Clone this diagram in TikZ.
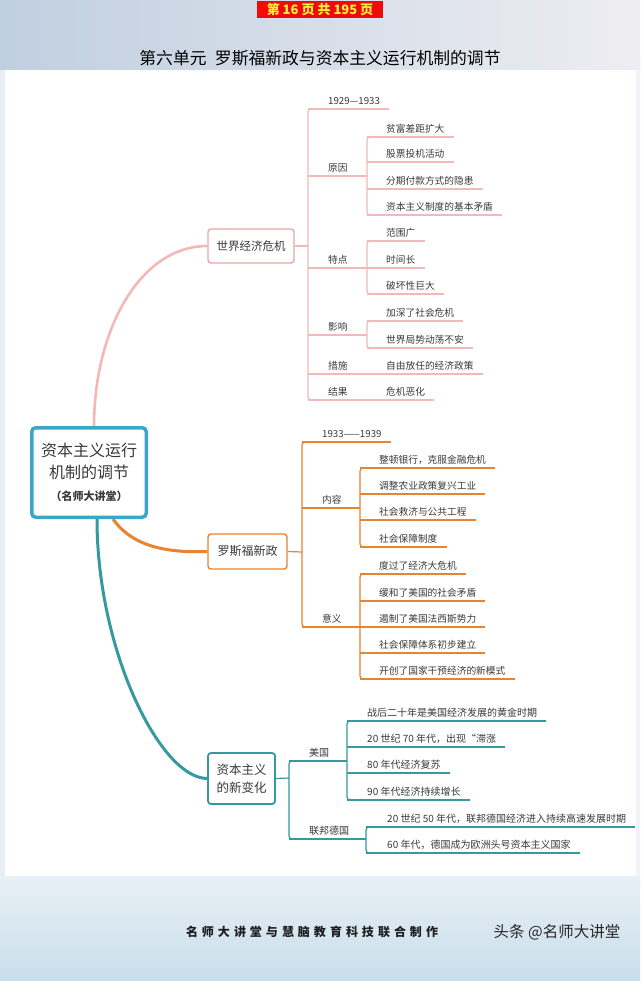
\documentclass[tikz,border=0pt]{standalone}
\usepackage{fontspec}
\setmainfont{Noto Sans CJK SC}
\usetikzlibrary{calc}
\definecolor{pk}{HTML}{F3B8B8}
\definecolor{pkb}{HTML}{EDA5A5}
\definecolor{og}{HTML}{E8832F}
\definecolor{tl}{HTML}{35999F}
\definecolor{rootc}{HTML}{3BA6CA}
\definecolor{txt}{HTML}{3A3A3A}
\definecolor{hdred}{HTML}{F20A0A}
\definecolor{hdyel}{HTML}{FFF23A}
\pgfdeclarelayer{bg}
\pgfdeclarelayer{mid}
\pgfsetlayers{bg,mid,main}
\newcommand\lfont{\fontsize{9.7}{11}\selectfont}
\tikzset{
  lf/.style={anchor=south west, inner sep=0pt, text depth=4.5pt, text height=7pt, font=\lfont, text=txt},
  ln/.style={draw=#1, line width=1.2pt},
  boxa/.style={draw=#1, line width=1.4pt, rounded corners=3pt, fill=white, text=txt, align=center, inner sep=0pt},
}
% name, barx, liney, xoff, text, color
\newcommand\lfa[6]{\node[lf] (#1) at ({#2+#4},#3) {#5};
  \draw[ln=#6] (#2,#3) -- ([xshift=9pt]#1.south east);}
% name, barx, liney, xoff, endx, text, color
\newcommand\lfb[7]{\node[lf] (#1) at ({#2+#4},#3) {#6};
  \draw[ln=#7] (#2,#3) -- (#1.south west) -- (#5,#3);}
% color, x, y1, y2
\newcommand\vbr[4]{\draw[ln=#1, rounded corners=3pt] ({#2+8},#3) -- (#2,#3) -- (#2,#4) -- ({#2+8},#4);}
\begin{document}
\begin{tikzpicture}[x=1pt,y=-1pt]
\useasboundingbox (0,0) rectangle (640,981);
\begin{pgfonlayer}{bg}
  \fill[color=white] (0,0) rectangle (640,981);
  \shade[left color={rgb,255:red,232;green,238;blue,244}, right color={rgb,255:red,240;green,243;blue,247}] (0,60) rectangle (640,890);
  \fill[white] (5,70) rectangle (636,876);
  \shade[left color={rgb,255:red,192;green,207;blue,224}, middle color={rgb,255:red,190;green,203;blue,220}, right color={rgb,255:red,238;green,237;blue,242}] (0,0) rectangle (640,70);
  \shade[top color={rgb,255:red,232;green,240;blue,246}, bottom color={rgb,255:red,200;green,222;blue,234}] (0,876) rectangle (640,981);
\end{pgfonlayer}

% header and title
\node[fill=hdred, text=hdyel, minimum width=126pt, minimum height=17pt, inner sep=0pt,
      font=\fontsize{13}{13}\selectfont\bfseries] (hdr) at (320,9.5) {第 16 页 共 195 页};
\node[text=black, font=\fontsize{16.8}{17}\selectfont, inner sep=0pt] (title) at (320,58)
  {第六单元\hspace{0.5em}罗斯福新政与资本主义运行机制的调节};

% root and main branches
\node[draw=rootc, line width=3.5pt, rounded corners=4pt, fill=white, minimum width=114.5pt, minimum height=89.5pt,
      inner sep=0pt, align=center, text=txt, font=\fontsize{16}{22}\selectfont] (root) at (89,472.5)
  {资本主义运行\\机制的调节\\{\fontsize{11}{22}\selectfont\bfseries （名师大讲堂）}};
\node[boxa=pkb, minimum width=86pt, minimum height=34pt, font=\fontsize{11.5}{13}\selectfont] (b1) at (251,246) {世界经济危机};
\node[boxa=og, minimum width=79pt, minimum height=35pt, font=\fontsize{12}{13}\selectfont] (b2) at (247.5,551.5) {罗斯福新政};
\node[boxa=tl, line width=1.8pt, minimum width=67pt, minimum height=51pt, font=\fontsize{12.5}{18}\selectfont] (b3) at (241.5,778.5) {资本主义\\的新变化};

\begin{pgfonlayer}{mid}
  \draw[pk, line width=2.6pt] ([xshift=5pt]root.north) .. controls (94,330) and (140,246) .. (b1.west);
  \draw[og, line width=3pt] ([xshift=24pt]root.south) .. controls (132,546) and (165,553) .. (b2.west);
  \draw[tl, line width=3pt] ([xshift=8pt]root.south) .. controls (97,650) and (160,778) .. (b3.west);
\end{pgfonlayer}

% ---------- branch 1 ----------
\coordinate (j1) at (308,246);
\draw[ln=pk] (b1.east) -- (j1);
\vbr{pk}{308}{109}{400}
\lfa{a0}{308}{109}{20}{1929—1933}{pk}
\lfb{a1}{308}{176}{20}{367}{原因}{pk}
\vbr{pk}{367}{137}{215}
\lfa{a11}{367}{137}{19}{贫富差距扩大}{pk}
\lfa{a12}{367}{162}{19}{股票投机活动}{pk}
\lfa{a13}{367}{189}{19}{分期付款方式的隐患}{pk}
\lfa{a14}{367}{215}{19}{资本主义制度的基本矛盾}{pk}
\lfb{a2}{308}{268}{20}{367}{特点}{pk}
\vbr{pk}{367}{241}{294}
\lfa{a21}{367}{241}{19}{范围广}{pk}
\lfa{a22}{367}{268}{19}{时间长}{pk}
\lfa{a23}{367}{294}{19}{破坏性巨大}{pk}
\lfb{a3}{308}{335}{20}{367}{影响}{pk}
\vbr{pk}{367}{321}{348}
\lfa{a31}{367}{321}{19}{加深了社会危机}{pk}
\lfa{a32}{367}{348}{19}{世界局势动荡不安}{pk}
\lfb{a4}{308}{374}{20}{367}{措施}{pk}
\lfa{a41}{367}{374}{19}{自由放任的经济政策}{pk}
\lfb{a5}{308}{400}{20}{367}{结果}{pk}
\lfa{a51}{367}{400}{19}{危机恶化}{pk}

% ---------- branch 2 ----------
\coordinate (j2) at (302,552);
\draw[ln=og] (b2.east) -- (j2);
\vbr{og}{302}{442}{627}
\lfa{c0}{302}{442}{20}{1933——1939}{og}
\lfb{c1}{302}{508}{20}{360}{内容}{og}
\vbr{og}{360}{468}{547}
\lfa{c11}{360}{468}{19}{整顿银行，克服金融危机}{og}
\lfa{c12}{360}{494}{19}{调整农业政策复兴工业}{og}
\lfa{c13}{360}{520}{19}{社会救济与公共工程}{og}
\lfa{c14}{360}{547}{19}{社会保障制度}{og}
\lfb{c2}{302}{627}{20}{360}{意义}{og}
\vbr{og}{360}{574}{679}
\lfa{c21}{360}{574}{19}{度过了经济大危机}{og}
\lfa{c22}{360}{601}{19}{缓和了美国的社会矛盾}{og}
\lfa{c23}{360}{627}{19}{遏制了美国法西斯势力}{og}
\lfa{c24}{360}{653}{19}{社会保障体系初步建立}{og}
\lfa{c25}{360}{679}{19}{开创了国家干预经济的新模式}{og}

% ---------- branch 3 ----------
\begin{scope}[lf/.append style={font=\fontsize{10}{12}\selectfont}]
\coordinate (j3) at (289,778);
\draw[ln=tl] (b3.east) -- (j3);
\vbr{tl}{289}{761}{839}
\lfb{d1}{289}{761}{20}{347}{美国}{tl}
\vbr{tl}{347}{721}{800}
\lfa{d11}{347}{721}{20}{战后二十年是美国经济发展的黄金时期}{tl}
\lfa{d12}{347}{747}{20}{20 世纪 70 年代，出现“滞涨}{tl}
\lfa{d13}{347}{773}{20}{80 年代经济复苏}{tl}
\lfa{d14}{347}{800}{20}{90 年代经济持续增长}{tl}
\lfb{d2}{289}{839}{20}{366}{联邦德国}{tl}
\vbr{tl}{366}{827}{853}
\lfa{d21}{366}{827}{21}{20 世纪 50 年代，联邦德国经济进入持续高速发展时期}{tl}
\lfa{d22}{366}{853}{21}{60 年代，德国成为欧洲头号资本主义国家}{tl}
\end{scope}

% footer
\node[inner sep=0pt, text={rgb,255:red,30;green,30;blue,30}, font=\fontsize{12}{12}\selectfont\bfseries] (foot) at (312,932)
  {名\,\,师\,\,大\,\,讲\,\,堂\,\,与\,\,慧\,\,脑\,\,教\,\,育\,\,科\,\,技\,\,联\,\,合\,\,制\,\,作};
\node[inner sep=0pt, text={rgb,255:red,40;green,40;blue,40}, font=\fontsize{15.5}{16}\selectfont] (wm) at (557,932)
  {头条 @名师大讲堂};
\end{tikzpicture}
\end{document}
